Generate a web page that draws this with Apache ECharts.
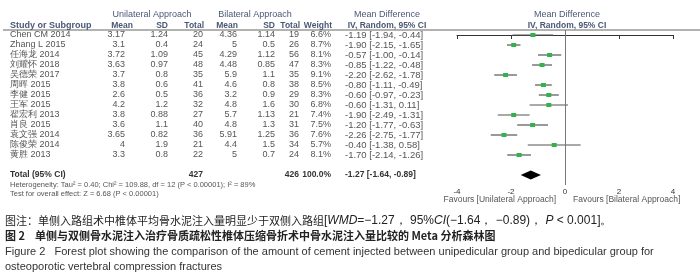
<!DOCTYPE html>
<html>
<head>
<meta charset="utf-8">
<script src="https://cdn.jsdelivr.net/npm/echarts@6/dist/echarts.min.js"></script>
<style>
html,body{margin:0;padding:0;background:#fff;}
#forest{width:700px;height:280px;}
</style>
</head>
<body>
<div id="forest"></div>
<script>
// study rows
var studies = ['Chen CM 2014','Zhang L 2015','任海龙 2014','刘耀怀 2018','吴德荣 2017','周晖 2015','李健 2015',
               '王军 2015','翟宏利 2013','肖良 2015','袁文强 2014','陈俊荣 2014','黄胜 2013'];
var uniMean = [3.17, 3.1, 3.72, 3.63, 3.7, 3.8, 2.6, 4.2, 3.8, 3.6, 3.65, 4, 3.3];
var uniSD   = [1.24, 0.4, 1.09, 0.97, 0.8, 0.6, 0.5, 1.2, 0.88, 1.1, 0.82, 1.9, 0.8];
var uniN    = [20, 24, 45, 48, 35, 41, 36, 32, 27, 40, 36, 21, 22];
var biMean  = [4.36, 5, 4.29, 4.48, 5.9, 4.6, 3.2, 4.8, 5.7, 4.8, 5.91, 4.4, 5];
var biSD    = [1.14, 0.5, 1.12, 0.85, 1.1, 0.8, 0.9, 1.6, 1.13, 1.3, 1.25, 1.5, 0.7];
var biN     = [19, 26, 56, 47, 35, 38, 29, 30, 21, 31, 36, 34, 24];
var weight  = [6.6, 8.7, 8.1, 8.3, 9.1, 8.5, 8.3, 6.8, 7.4, 7.5, 7.6, 5.7, 8.1];
var md      = [-1.19, -1.90, -0.57, -0.85, -2.20, -0.80, -0.60, -0.60, -1.90, -1.20, -2.26, -0.40, -1.70];
var ciLow   = [-1.94, -2.15, -1.00, -1.22, -2.62, -1.11, -0.97, -1.31, -2.49, -1.77, -2.75, -1.38, -2.14];
var ciHigh  = [-0.44, -1.65, -0.14, -0.48, -1.78, -0.49, -0.23, 0.11, -1.31, -0.63, -1.77, 0.58, -1.26];
// pooled row
var totalN   = [427, 426];
var totalEst = [-1.27, -1.64, -0.89];
var xTicks   = [-4, -2, 0, 2, 4];

var TOTAL_ROW = 14;
var hdrColor = '#4a5876';
var txtColor = '#555';
var fam = '"Liberation Sans", Arial, sans-serif';
var cjk = '"Noto Sans CJK SC", sans-serif';

function ciText(m, l, h) {
    return m.toFixed(2) + ' [' + l.toFixed(2) + ', ' + h.toFixed(2) + ']';
}

// table columns (x in table grid units = px)
var cols = [
    {x: 10,  align: 'left'},
    {x: 125, align: 'right'},
    {x: 168, align: 'right'},
    {x: 203, align: 'right'},
    {x: 237, align: 'right'},
    {x: 275, align: 'right'},
    {x: 299, align: 'right'},
    {x: 331, align: 'right'},
    {x: 345, align: 'left', size: 9.5}
];

var tableRows = studies.map(function (s, i) {
    return [i, s, String(uniMean[i]), String(uniSD[i]), String(uniN[i]), String(biMean[i]),
            String(biSD[i]), String(biN[i]), weight[i].toFixed(1) + '%', ciText(md[i], ciLow[i], ciHigh[i]), 0];
});
tableRows.push([TOTAL_ROW, 'Total (95% CI)', '', '', String(totalN[0]), '', '', String(totalN[1]), '100.0%',
                ciText(totalEst[0], totalEst[1], totalEst[2]), 1]);

var forestData = studies.map(function (s, i) { return [md[i], i, ciLow[i], ciHigh[i]]; });

function txt(x, y, text, opt) {
    opt = opt || {};
    return {
        type: 'text', x: x, y: y, silent: true,
        style: {
            text: text, fill: opt.color || txtColor,
            font: (opt.bold ? 'bold ' : '') + (opt.size || 8.5) + 'px ' + (opt.family || fam),
            textAlign: opt.align || 'left', textVerticalAlign: 'middle',
            rich: opt.rich
        }
    };
}

var chart = echarts.init(document.getElementById('forest'));
chart.setOption({
    animation: false,
    grid: [
        {left: 0, width: 440, top: 30, height: 155},
        {left: 457, right: 27, top: 30, height: 155}
    ],
    xAxis: [
        {gridIndex: 0, type: 'value', min: 0, max: 440, show: false},
        {gridIndex: 1, type: 'value', min: -4, max: 4, interval: 2,
         axisLine: {show: true, lineStyle: {color: '#333', width: 1}},
         axisTick: {show: true, length: 4, lineStyle: {color: '#333'}},
         splitLine: {show: false},
         axisLabel: {fontSize: 8, color: '#333', margin: 3, fontFamily: fam,
                     customValues: xTicks}}
    ],
    yAxis: [
        {gridIndex: 0, type: 'value', min: -0.5, max: 15, inverse: true, show: false},
        {gridIndex: 1, type: 'value', min: -0.5, max: 15, inverse: true, show: false}
    ],
    series: [
        {
            type: 'custom', xAxisIndex: 0, yAxisIndex: 0, silent: true,
            data: tableRows,
            renderItem: function (params, api) {
                var row = api.value(0);
                var bold = api.value(10) === 1;
                var kids = [];
                cols.forEach(function (c, ci) {
                    var t = tableRows[params.dataIndex][ci + 1];
                    if (!t) return;
                    var p = api.coord([c.x, row]);
                    kids.push({
                        type: 'text', x: p[0], y: p[1],
                        style: {text: t, fill: bold ? '#333' : txtColor,
                                font: bold ? 'bold 8.5px ' + fam : (c.size || 9) + 'px ' + fam,
                                textAlign: c.align, textVerticalAlign: 'middle'}
                    });
                });
                return {type: 'group', children: kids};
            }
        },
        {
            type: 'custom', xAxisIndex: 1, yAxisIndex: 1, silent: true,
            data: forestData,
            encode: {x: [0, 2, 3], y: 1},
            renderItem: function (params, api) {
                var a = api.coord([api.value(2), api.value(1)]);
                var b = api.coord([api.value(3), api.value(1)]);
                var c = api.coord([api.value(0), api.value(1)]);
                return {type: 'group', children: [
                    {type: 'line', shape: {x1: a[0], y1: a[1], x2: b[0], y2: b[1]},
                     style: {stroke: '#555', lineWidth: 1.2}},
                    {type: 'rect', shape: {x: c[0] - 2.5, y: c[1] - 2, width: 5, height: 4},
                     style: {fill: '#2fb34a'}}
                ]};
            },
            markLine: {
                silent: true, symbol: 'none', label: {show: false},
                lineStyle: {color: '#777', width: 1, type: 'solid'},
                data: [{xAxis: 0}]
            }
        },
        {
            type: 'custom', xAxisIndex: 1, yAxisIndex: 1, silent: true,
            data: [[totalEst[0], TOTAL_ROW, totalEst[1], totalEst[2]]],
            encode: {x: [0, 2, 3], y: 1},
            renderItem: function (params, api) {
                var r = api.value(1);
                var l = api.coord([api.value(2), r]);
                var t = api.coord([api.value(0), r - 0.45]);
                var h = api.coord([api.value(3), r]);
                var b = api.coord([api.value(0), r + 0.45]);
                return {type: 'polygon', shape: {points: [l, t, h, b]}, style: {fill: '#000'}};
            }
        }
    ],
    graphic: [
        {type: 'line', silent: true, shape: {x1: 3, y1: 30, x2: 700, y2: 30},
         style: {stroke: '#999', lineWidth: 1.5}},
        txt(152, 15, 'Unilateral Approach', {align: 'center', color: hdrColor, size: 9}),
        txt(255, 15, 'Bilateral Approach', {align: 'center', color: hdrColor, size: 9}),
        txt(387, 15, 'Mean Difference', {align: 'center', color: hdrColor, size: 9}),
        txt(567, 15, 'Mean Difference', {align: 'center', color: hdrColor, size: 9}),
        txt(10, 26, 'Study or Subgroup', {bold: true, color: hdrColor, size: 9}),
        txt(133, 26, 'Mean', {bold: true, color: hdrColor, align: 'right'}),
        txt(168, 26, 'SD', {bold: true, color: hdrColor, align: 'right'}),
        txt(204, 26, 'Total', {bold: true, color: hdrColor, align: 'right'}),
        txt(238, 26, 'Mean', {bold: true, color: hdrColor, align: 'right'}),
        txt(275, 26, 'SD', {bold: true, color: hdrColor, align: 'right'}),
        txt(300, 26, 'Total', {bold: true, color: hdrColor, align: 'right'}),
        txt(332, 26, 'Weight', {bold: true, color: hdrColor, align: 'right'}),
        txt(387, 26, 'IV, Random, 95% CI', {bold: true, color: hdrColor, align: 'center'}),
        txt(567, 26, 'IV, Random, 95% CI', {bold: true, color: hdrColor, align: 'center'}),
        txt(10, 185, 'Heterogeneity: Tau² = 0.40; Chi² = 109.88, df = 12 (P < 0.00001); I² = 89%', {size: 7.5}),
        txt(10, 194, 'Test for overall effect: Z = 6.68 (P < 0.00001)', {size: 7.5}),
        txt(556, 200, 'Favours [Unilateral Approach]', {size: 8.5, align: 'right'}),
        txt(573, 200, 'Favours [Bilateral Approach]', {size: 8.5}),
        txt(5, 221, '{c|图注：单侧入路组术中椎体平均骨水泥注入量明显少于双侧入路组}{l|[}{i|WMD}{l|=−1.27， 95%}{i|CI}{l|(−1.64， −0.89)， }{i|P}{l| < 0.001]。}', {
            color: '#222',
            rich: {
                c: {fontSize: 11, fontFamily: cjk, fill: '#222'},
                l: {fontSize: 12, fontFamily: fam, fill: '#222'},
                i: {fontSize: 12, fontFamily: fam, fontStyle: 'italic', fill: '#222'}
            }
        }),
        txt(5, 236, '图 2    单侧与双侧骨水泥注入治疗骨质疏松性椎体压缩骨折术中骨水泥注入量比较的 Meta 分析森林图',
            {size: 11, bold: true, color: '#222', family: cjk}),
        txt(5, 252, 'Figure 2   Forest plot showing the comparison of the amount of cement injected between unipedicular group and bipedicular group for',
            {size: 11, color: '#333'}),
        txt(5, 267, 'osteoporotic vertebral compression fractures', {size: 11, color: '#333'})
    ]
});
</script>
</body>
</html>
